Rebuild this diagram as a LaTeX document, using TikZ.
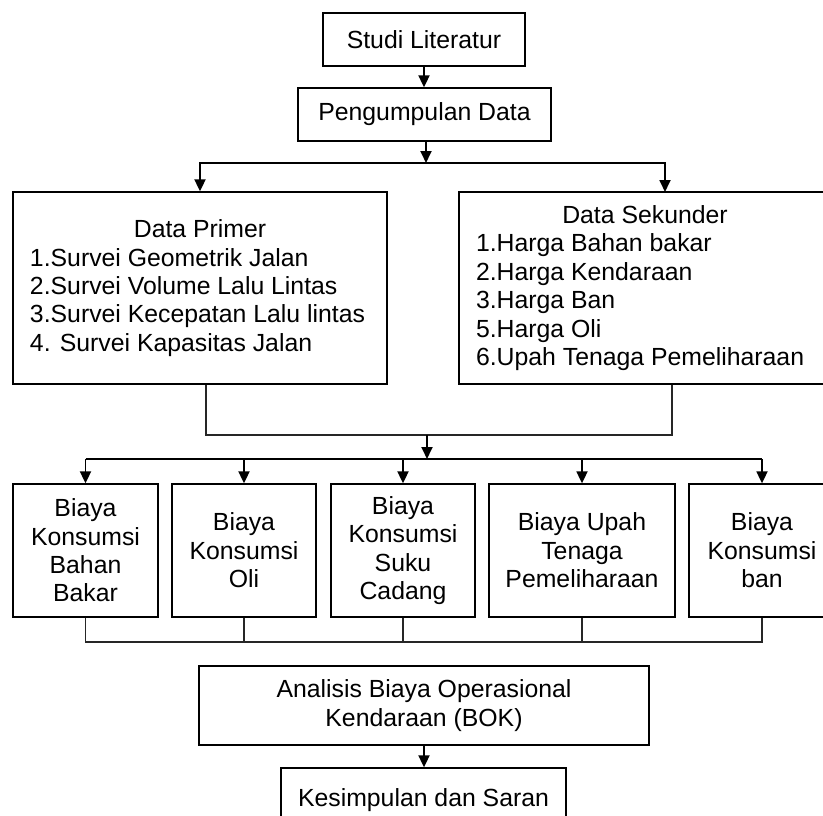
\documentclass[tikz,border=0pt]{standalone}
\usepackage{fontspec}
\setmainfont{Liberation Sans}
\usetikzlibrary{arrows.meta,shadows}
\begin{document}
\begin{tikzpicture}[x=1pt,y=-1pt,
  box/.style={draw, line width=1.3pt, fill=white, inner sep=0pt, align=center,
    font=\fontsize{24.8}{28.4}\selectfont,
    drop shadow={shadow xshift=1.3pt, shadow yshift=-1.3pt, fill=black, opacity=1}},
  arr/.style={line width=1.8pt, -{Triangle[length=12pt,width=11pt]}},
  bus/.style={line width=1.8pt},
  thin/.style={line width=1.2pt, draw=black!85},
]
\useasboundingbox (0,0) rectangle (823,816);
\clip (0,0) rectangle (823,816);

\node[box, minimum width=202pt, minimum height=53pt] (studi) at (424,39.5) {Studi Literatur};
\node[box, minimum width=253pt, minimum height=53pt] (peng) at (424.5,114.5) {Pengumpulan Data};

\node[box, minimum width=374pt, minimum height=192pt] (prim) at (200,288)
 {Data Primer\\
  \makebox[340pt][l]{1.Survei Geometrik Jalan}\\
  \makebox[340pt][l]{2.Survei Volume Lalu Lintas}\\
  \makebox[340pt][l]{3.Survei Kecepatan Lalu lintas}\\
  \makebox[340pt][l]{4. Survei Kapasitas Jalan}};
\node[box, minimum width=372pt, minimum height=192pt] (sek) at (645,288)
 {Data Sekunder\\
  \makebox[338pt][l]{1.Harga Bahan bakar}\\
  \makebox[338pt][l]{2.Harga Kendaraan}\\
  \makebox[338pt][l]{3.Harga Ban}\\
  \makebox[338pt][l]{5.Harga Oli}\\
  \makebox[338pt][l]{6.Upah Tenaga Pemeliharaan}};

\node[box, minimum width=145pt, minimum height=133pt] (k1) at (85.5,550.5) {Biaya\\Konsumsi\\Bahan\\Bakar};
\node[box, minimum width=144pt, minimum height=133pt] (k2) at (244,550.5) {Biaya\\Konsumsi\\Oli};
\node[box, minimum width=144pt, minimum height=133pt] (k3) at (403,550.5) {Biaya\\Konsumsi\\Suku\\Cadang};
\node[box, minimum width=186pt, minimum height=133pt] (k4) at (582,550.5) {Biaya Upah\\Tenaga\\Pemeliharaan};
\node[box, minimum width=146pt, minimum height=133pt] (k5) at (762,550.5) {Biaya\\Konsumsi\\ban};

\node[box, minimum width=450pt, minimum height=79pt] (ana) at (424,705.5) {Analisis Biaya Operasional\\Kendaraan (BOK)};
\node[box, minimum width=285pt, minimum height=64pt] (kes) at (423.5,800) {Kesimpulan dan Saran};

% top connectors
\draw[arr] (studi.south) -- (studi.south |- peng.north);
\coordinate (b1) at (426,163);
\coordinate (rt) at (665,192);
\draw[arr] (peng.south -| b1) -- (b1);
\draw[arr] (b1) -| (prim.north);
\draw[arr] (b1) -| (rt);

% merge from data boxes
\coordinate (m1) at (206,435);
\coordinate (m2) at (672,435);
\coordinate (mid) at (427,435);
\coordinate (b2) at (427,459);
\draw[thin] (prim.south -| m1) -- (m1) -- (m2) -- (sek.south -| m2);
\draw[arr] (mid) -- (b2);
\draw[bus] (k1.north |- b2) -- (k5.north |- b2);
\foreach \k in {k1,k2,k3,k4,k5}{
  \draw[arr] (\k.north |- b2) -- (\k.north);
}

% bottom collector
\coordinate (bb) at (0,642);
\draw[thin] (k1.south) -- (k1.south |- bb) -- (k5.south |- bb) -- (k5.south);
\foreach \k in {k2,k3,k4}{
  \draw[thin] (\k.south) -- (\k.south |- bb);
}

\draw[arr] (ana.south) -- (ana.south |- kes.north);
\end{tikzpicture}
\end{document}
